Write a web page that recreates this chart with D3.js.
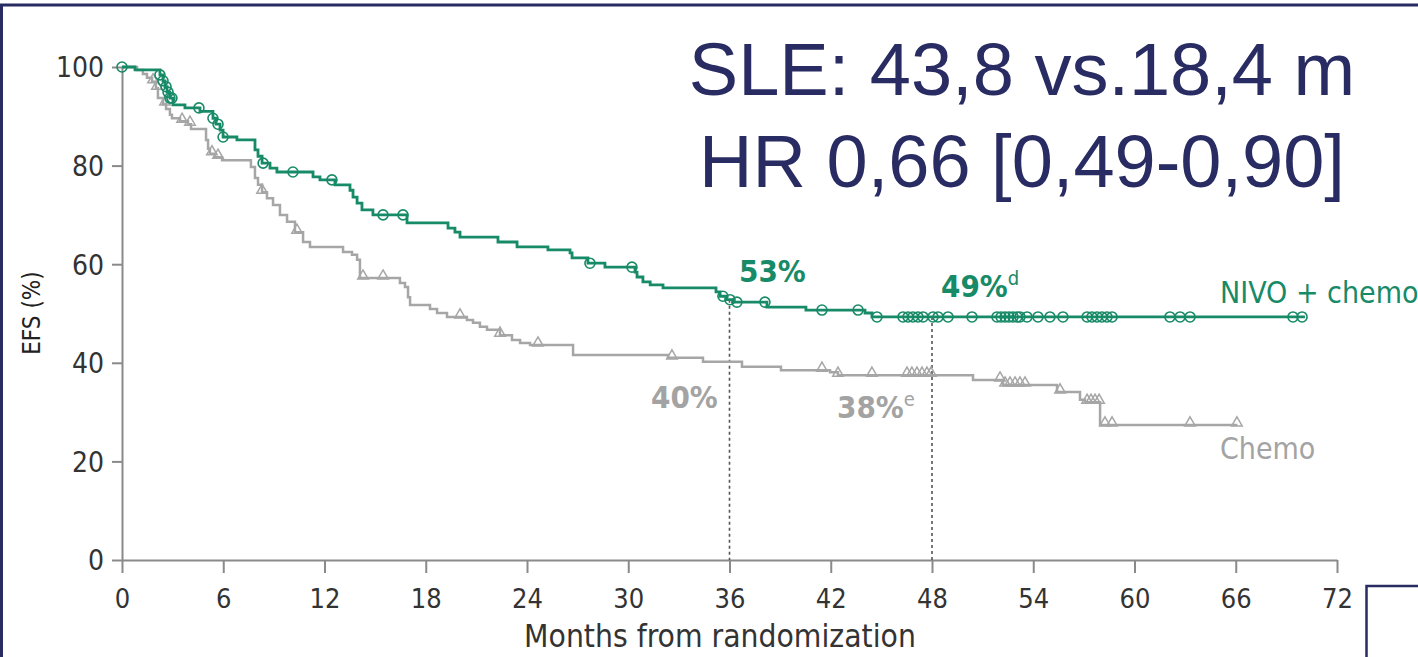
<!DOCTYPE html>
<html>
<head>
<meta charset="utf-8">
<script src="https://cdn.jsdelivr.net/npm/d3@7"></script>
<style>
  html, body { margin: 0; padding: 0; background: #fff; }
  #chart { width: 1418px; height: 657px; }
  text { font-family: "DejaVu Sans Condensed", "Liberation Sans Narrow", "DejaVu Sans", sans-serif; }
</style>
</head>
<body>
<div id="chart"></div>
<script>
// KM curve: event times (months) and EFS (%)
const nivoTime = [0, 0.77, 2.25, 2.43, 2.55, 2.67, 2.84, 3.02, 3.73, 4.62, 5.39, 5.57, 5.81, 5.99, 6.81, 7.88, 8.06, 8.30, 8.77, 9.18, 11.32, 11.73, 12.62, 13.51, 13.69, 13.93, 14.22, 14.87, 16.89, 19.32, 19.73, 20.03, 22.28, 23.41, 25.24, 26.55, 26.67, 27.61, 28.62, 30.40, 30.52, 30.87, 31.30, 32.06, 35.20, 35.44, 35.79, 36.21, 38.22, 40.53, 44.03, 44.44];
const nivoSurv = [100, 99.4, 98.4, 97.2, 96.0, 94.9, 93.7, 92.3, 91.7, 91.0, 89.6, 88.4, 87.2, 85.8, 85.2, 83.2, 81.9, 80.5, 79.5, 78.7, 77.7, 77.1, 76.1, 75.0, 73.6, 72.4, 71.0, 70.0, 68.4, 67.3, 66.5, 65.5, 64.5, 63.5, 62.9, 62.3, 61.3, 60.2, 59.4, 58.4, 57.4, 56.4, 55.8, 55.2, 54.4, 53.5, 52.8, 52.3, 51.3, 50.7, 50.1, 49.3];
const nivoEnd = 70.1;
const nivoCensor = [0, 2.25, 2.43, 2.61, 2.73, 2.84, 2.96, 4.56, 5.39, 5.69, 5.99, 8.36, 10.13, 12.44, 15.47, 16.65, 27.73, 30.22, 35.61, 36.03, 36.44, 38.1, 41.48, 43.62, 44.74, 46.28, 46.58, 46.87, 47.17, 47.47, 48.06, 48.36, 48.95, 50.37, 51.85, 52.09, 52.33, 52.56, 52.8, 53.04, 53.21, 53.63, 54.28, 54.99, 55.76, 57.19, 57.48, 57.78, 58.07, 58.37, 58.67, 62.1, 62.7, 63.29, 69.39, 69.93];

const chemoTime = [0, 0.89, 1.24, 1.48, 1.78, 2.01, 2.13, 2.43, 2.61, 2.84, 2.96, 3.44, 3.91, 4.09, 4.98, 5.10, 5.21, 5.51, 5.93, 7.64, 7.88, 8.06, 8.30, 8.59, 8.95, 9.36, 9.78, 10.25, 10.73, 11.14, 13.10, 13.63, 13.93, 14.10, 16.47, 16.77, 16.95, 17.07, 18.25, 18.67, 19.26, 20.44, 20.80, 21.21, 21.63, 22.40, 23.11, 23.59, 24.18, 26.73, 32.36, 34.43, 36.74, 39.05, 41.96, 42.43, 50.43, 52.21, 55.41, 56.77, 57.07, 57.96];
const chemoSurv = [100, 99.4, 98.6, 97.8, 97.0, 95.7, 93.7, 92.5, 91.5, 90.3, 89.6, 89.0, 88.4, 87.4, 85.2, 83.4, 82.4, 81.7, 81.1, 79.7, 77.5, 76.1, 74.6, 73.4, 72.0, 70.0, 68.6, 66.5, 64.5, 63.5, 62.5, 61.9, 60.9, 57.2, 56.2, 55.4, 53.3, 51.7, 50.9, 50.1, 49.3, 48.7, 48.1, 47.3, 46.7, 45.6, 44.6, 44.0, 43.6, 41.6, 41.0, 40.2, 39.2, 38.5, 38.1, 37.5, 36.5, 35.5, 34.1, 32.5, 32.0, 27.4];
const chemoEnd = 66.1;
const chemoCensor = [1.84, 2.07, 2.55, 3.56, 4.03, 5.33, 5.69, 8.3, 10.37, 14.28, 15.47, 20.03, 22.4, 24.65, 32.59, 41.48, 42.43, 44.44, 46.52, 46.81, 47.11, 47.41, 47.7, 47.94, 52.03, 52.33, 52.62, 52.92, 53.21, 53.51, 55.59, 57.19, 57.42, 57.66, 57.9, 58.25, 58.67, 63.29, 66.07];

const xTicks = [0, 6, 12, 18, 24, 30, 36, 42, 48, 54, 60, 66, 72];
const yTicks = [0, 20, 40, 60, 80, 100];
const landmarks = [36, 48];

const titleLines = ["SLE: 43,8 vs.18,4 m", "HR 0,66 [0,49-0,90]"];

const green = "#178a67";
const grey = "#a6a6a6";
const navy = "#292c62";

const width = 1418, height = 657;

const svg = d3.select("#chart").append("svg")
  .attr("width", width)
  .attr("height", height);

// slide frame
svg.append("line").attr("x1", 0).attr("x2", width).attr("y1", 5).attr("y2", 5)
  .attr("stroke", navy).attr("stroke-width", 3);
svg.append("line").attr("x1", 1.5).attr("x2", 1.5).attr("y1", 5).attr("y2", height)
  .attr("stroke", navy).attr("stroke-width", 3);
svg.append("path").attr("d", `M${width},586 H1366.5 V${height}`)
  .attr("fill", "none").attr("stroke", navy).attr("stroke-width", 2.5);

const x = d3.scaleLinear().domain([0, 72]).range([122, 1337]);
const y = d3.scaleLinear().domain([0, 100]).range([560, 67]);

// axes
const xAxis = svg.append("g")
  .attr("transform", `translate(0,${y(0)})`)
  .call(d3.axisBottom(x).tickValues(xTicks).tickSize(13).tickSizeOuter(0).tickPadding(16));
const yAxis = svg.append("g")
  .attr("transform", `translate(${x(0)},0)`)
  .call(d3.axisLeft(y).tickValues(yTicks).tickSize(10).tickSizeOuter(0).tickPadding(8));

[xAxis, yAxis].forEach(g => {
  g.selectAll("path, line").attr("stroke", "#8a8a8a").attr("stroke-width", 2);
  g.selectAll("text").attr("fill", "#333").style("font-size", "27px");
});
yAxis.selectAll("text").attr("dy", "0.35em").style("font-size", "28px");

svg.append("text")
  .attr("x", 720).attr("y", 647)
  .attr("text-anchor", "middle")
  .attr("fill", "#333")
  .style("font-size", "31.5px")
  .text("Months from randomization");

svg.append("text")
  .attr("transform", `translate(40,313) rotate(-90)`)
  .attr("text-anchor", "middle")
  .attr("fill", "#222")
  .style("font-size", "24px")
  .text("EFS (%)");

// step function helper
function survAt(times, surv, t) {
  const i = d3.bisectRight(times, t) - 1;
  return surv[Math.max(0, i)];
}

const line = d3.line()
  .x(d => x(d[0]))
  .y(d => y(d[1]))
  .curve(d3.curveStepAfter);

// landmark dashed lines
landmarks.forEach(m => {
  svg.append("line")
    .attr("x1", x(m)).attr("x2", x(m))
    .attr("y1", y(survAt(nivoTime, nivoSurv, m))).attr("y2", y(0))
    .attr("stroke", "#555").attr("stroke-width", 1.6)
    .attr("stroke-dasharray", "3,3");
});

const chemoPts = chemoTime.map((t, i) => [t, chemoSurv[i]]).concat([[chemoEnd, chemoSurv[chemoSurv.length - 1]]]);
const nivoPts = nivoTime.map((t, i) => [t, nivoSurv[i]]).concat([[nivoEnd, nivoSurv[nivoSurv.length - 1]]]);

svg.append("path").attr("d", line(chemoPts))
  .attr("fill", "none").attr("stroke", grey).attr("stroke-width", 2.5);

const tri = d3.symbol().type(d3.symbolTriangle).size(48);
svg.append("g").selectAll("path")
  .data(chemoCensor)
  .join("path")
  .attr("d", tri)
  .attr("transform", d => `translate(${x(d)},${y(survAt(chemoTime, chemoSurv, d)) - 2})`)
  .attr("fill", "none").attr("stroke", grey).attr("stroke-width", 1.5);

svg.append("path").attr("d", line(nivoPts))
  .attr("fill", "none").attr("stroke", green).attr("stroke-width", 2.8);

svg.append("g").selectAll("circle")
  .data(nivoCensor)
  .join("circle")
  .attr("cx", d => x(d))
  .attr("cy", d => y(survAt(nivoTime, nivoSurv, d)))
  .attr("r", 5)
  .attr("fill", "none").attr("stroke", green).attr("stroke-width", 1.6);

// annotations
function pctLabel(text, sup, px, py, color) {
  const t = svg.append("text").attr("x", px).attr("y", py)
    .attr("fill", color).style("font-size", "31px").style("font-weight", "bold")
    .text(text);
  if (sup) t.append("tspan").attr("dy", -12).style("font-size", "20px").style("font-weight", "normal").text(sup);
}
pctLabel("53%", null, 739, 282, green);
pctLabel("49%", "d", 941, 297, green);
pctLabel("40%", null, 651, 408, "#a3a3a3");
pctLabel("38%", "e", 837, 418, "#a3a3a3");

svg.append("text").attr("x", 1220).attr("y", 303)
  .attr("fill", green).style("font-size", "30px").text("NIVO + chemo");
svg.append("text").attr("x", 1220).attr("y", 459)
  .attr("fill", "#a3a3a3").style("font-size", "30px").text("Chemo");

// headline
svg.append("g").selectAll("text")
  .data(titleLines)
  .join("text")
  .attr("x", 1022)
  .attr("y", (d, i) => 95 + i * 92)
  .attr("text-anchor", "middle")
  .attr("fill", navy)
  .style("font-family", "'Liberation Sans', Arial, sans-serif")
  .style("font-size", "74px")
  .text(d => d);
</script>
</body>
</html>
